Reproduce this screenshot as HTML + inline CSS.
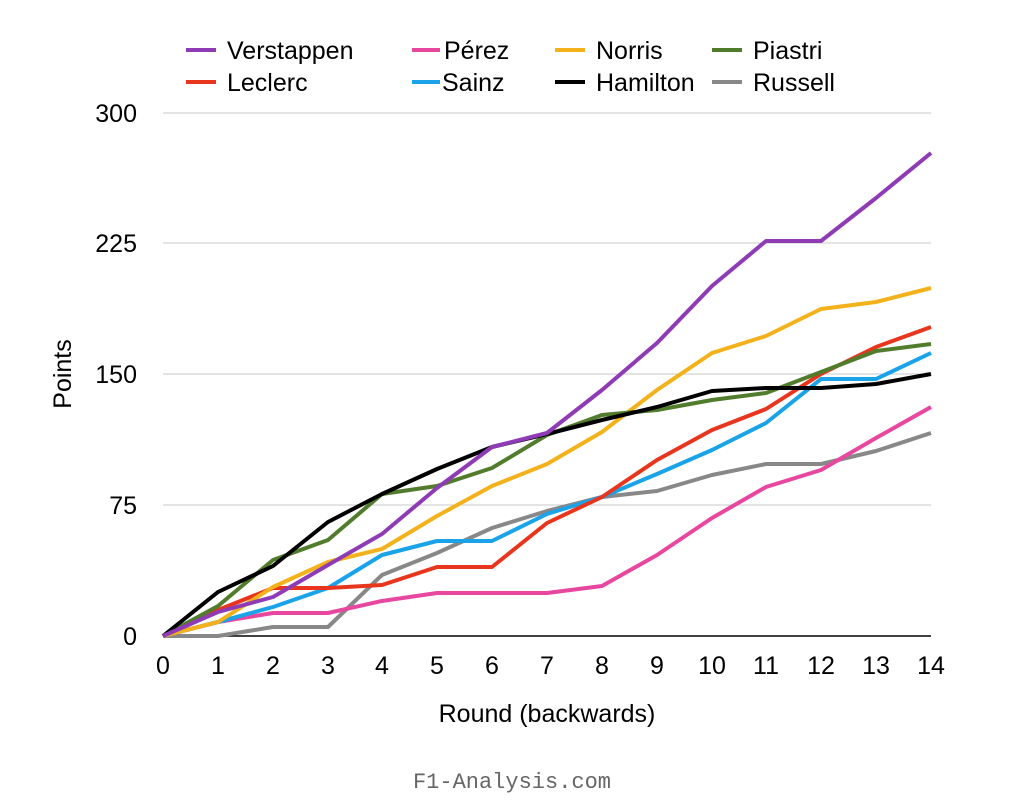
<!DOCTYPE html>
<html><head><meta charset="utf-8"><style>
body{margin:0;background:#fff;}
svg{display:block;font-family:"Liberation Sans",sans-serif;}
</style></head><body>
<svg width="1024" height="807" viewBox="0 0 1024 807" xmlns="http://www.w3.org/2000/svg">
<g stroke="#c8c8c8" stroke-width="1">
<line x1="163" y1="113" x2="931" y2="113"/>
<line x1="163" y1="243" x2="931" y2="243"/>
<line x1="163" y1="374" x2="931" y2="374"/>
<line x1="163" y1="505" x2="931" y2="505"/>
</g>
<line x1="163" y1="636" x2="931" y2="636" stroke="#000" stroke-width="1.5"/>
<g font-size="25" fill="#000" text-anchor="end">
<text x="137" y="122">300</text>
<text x="137" y="252">225</text>
<text x="137" y="383">150</text>
<text x="137" y="514">75</text>
<text x="137" y="645">0</text>
</g>
<g font-size="25" fill="#000" text-anchor="middle">
<text x="163" y="674">0</text><text x="218" y="674">1</text><text x="273" y="674">2</text><text x="328" y="674">3</text><text x="382" y="674">4</text><text x="437" y="674">5</text><text x="492" y="674">6</text><text x="547" y="674">7</text><text x="602" y="674">8</text><text x="657" y="674">9</text><text x="712" y="674">10</text><text x="766" y="674">11</text><text x="821" y="674">12</text><text x="876" y="674">13</text><text x="931" y="674">14</text>
<text x="547" y="722">Round (backwards)</text>
<text x="0" y="0" transform="translate(71,374) rotate(-90)">Points</text>
<text x="512" y="788" font-family="Liberation Mono,monospace" fill="#666" font-size="22">F1-Analysis.com</text>
</g>
<g fill="none" stroke-width="4" stroke-linejoin="round">
<polyline stroke="#888" points="163,636 218,636 273,627 328,627 382,575 437,553 492,528 547,511 602,497 657,491 712,475 766,464 821,464 876,451 931,433"/>
<polyline stroke="#e8479f" points="163,636 218,622 273,613 328,613 382,601 437,593 492,593 547,593 602,586 657,555 712,518 766,487 821,470 876,438 931,407"/>
<polyline stroke="#1aa3e8" points="163,636 218,622 273,607 328,588 382,555 437,541 492,541 547,514 602,497 657,474 712,450 766,423 821,379 876,379 931,353"/>
<polyline stroke="#e8361e" points="163,636 218,610 273,588 328,588 382,585 437,567 492,567 547,523 602,497 657,460 712,430 766,409 821,374 876,347 931,327"/>
<polyline stroke="#f3b21b" points="163,636 218,622 273,587 328,562 382,549 437,516 492,486 547,464 602,432 657,390 712,353 766,336 821,309 876,302 931,288"/>
<polyline stroke="#517c2c" points="163,636 218,606 273,560 328,540 382,494 437,486 492,468 547,435 602,415 657,410 712,400 766,393 821,372 876,351 931,344"/>
<polyline stroke="#000" points="163,636 218,592 273,566 328,522 382,494 437,469 492,447 547,434 602,420 657,407 712,391 766,388 821,388 876,384 931,374"/>
<polyline stroke="#8e3bb5" points="163,636 218,612 273,597 328,565 382,534 437,488 492,447 547,433 602,390 657,343 712,286 766,241 821,241 876,198 931,153"/>
</g>
<g stroke-width="4">
<line x1="186" y1="50" x2="216" y2="50" stroke="#8e3bb5"/>
<line x1="186" y1="82" x2="216" y2="82" stroke="#e8361e"/>
<line x1="412" y1="50" x2="440" y2="50" stroke="#e8479f"/>
<line x1="412" y1="82" x2="440" y2="82" stroke="#1aa3e8"/>
<line x1="555" y1="50" x2="585" y2="50" stroke="#f3b21b"/>
<line x1="555" y1="82" x2="585" y2="82" stroke="#000"/>
<line x1="712" y1="50" x2="742" y2="50" stroke="#517c2c"/>
<line x1="712" y1="82" x2="742" y2="82" stroke="#888"/>
</g>
<g font-size="25" fill="#000">
<text x="227" y="59">Verstappen</text><text x="227" y="91">Leclerc</text>
<text x="444" y="59">Pérez</text><text x="442" y="91">Sainz</text>
<text x="596" y="59">Norris</text><text x="596" y="91">Hamilton</text>
<text x="753" y="59">Piastri</text><text x="753" y="91">Russell</text>
</g>
</svg>
</body></html>
